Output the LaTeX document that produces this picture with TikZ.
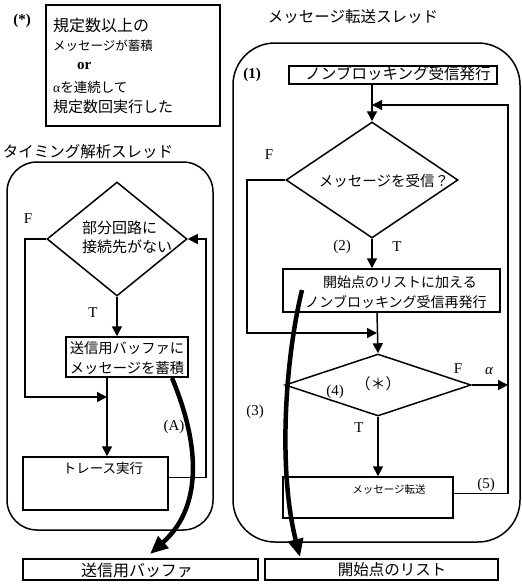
\documentclass[tikz,border=0pt]{standalone}
\usepackage{fontspec}
\setmainfont{Liberation Serif}
\newfontfamily\jp{Noto Sans CJK JP}
\newfontfamily\lat{Liberation Serif}
\usetikzlibrary{arrows.meta,shapes.geometric,calc}
\begin{document}
\begin{tikzpicture}[x=1pt,y=-1pt,
  box/.style={draw,line width=1.5pt,rectangle,inner sep=0pt},
  panel/.style={draw,line width=1.5pt,rectangle,inner sep=0pt},
  dia/.style={draw,line width=1.5pt,diamond,inner sep=0pt},
  conn/.style={line width=1.5pt},
  arr/.style={line width=1.5pt,-{Triangle[length=10pt,width=10pt]}},
  bigarr/.style={line width=4.5pt,-{Triangle[length=18pt,width=15pt]}},
  lbl/.style={inner sep=0pt,font=\fontsize{15}{15}\selectfont},
  jt/.style={inner sep=0pt,font=\jp\fontsize{#1}{#1}\selectfont},
  jt/.default=14
]
\useasboundingbox (0,0) rectangle (522,584);

% (*) note box
\node[lbl] (starlbl) at (22,21) {\textbf{(*)}};
\node[box,minimum width=174pt,minimum height=121pt] (starbox) at (133,65.5) {};
\node[jt=16,anchor=west] (s1) at (53,25) {規定数以上の};
\node[jt=12.5,anchor=west] (s2) at (53,46) {メッセージが蓄積};
\node[lbl,anchor=west] (s3) at (77,66) {\textbf{or}};
\node[jt=13.5,anchor=west] (s4) at (53,87) {{\lat α}を連続して};
\node[jt=15,anchor=west] (s5) at (53,107) {規定数回実行した};

% titles
\node[jt=15.5] (tR) at (353,17) {メッセージ転送スレッド};
\node[jt=15.5] (tL) at (88,152) {タイミング解析スレッド};

% panels
\node[panel,rounded corners=42pt,minimum width=287pt,minimum height=499pt] (pR) at (376.5,292.5) {};
\node[panel,rounded corners=30pt,minimum width=206pt,minimum height=368pt] (pL) at (110,346) {};

% right thread
\node[lbl] (n1) at (252,75) {\textbf{(1)}};
\node[box,minimum width=208pt,minimum height=18pt] (box1) at (393,75) {};
\node[jt=15.5] (box1t) at (398,74) {ノンブロッキング受信発行};

\node[dia,minimum width=172pt,minimum height=116pt] (dR1) at (372,180) {};
\node[jt=14.5] (dR1t) at (384,181) {メッセージを受信？};

\node[box,minimum width=217pt,minimum height=43pt] (box2) at (391.5,290.5) {};
\node[jt=14] (box2a) at (400,282) {開始点のリストに加える};
\node[jt=14] (box2b) at (396,302) {ノンブロッキング受信再発行};

\node[dia,minimum width=186pt,minimum height=62pt] (dR2) at (378,385) {};
\node[jt=15] (dR2t) at (378,384) {（＊）};

\node[box,minimum width=170pt,minimum height=41pt] (m5) at (368,497.5) {};
\node[jt=10.5] (m5t) at (389,490) {メッセージ転送};

\node[lbl] (FR) at (269,155) {F};
\node[lbl] (n2) at (342,247) {(2)};
\node[lbl] (TR) at (397,247) {T};
\node[lbl] (F2) at (458,369) {F};
\node[lbl] (al) at (489,371) {\itshape α};
\node[lbl] (n4) at (335,392) {(4)};
\node[lbl] (T2) at (359,428) {T};
\node[lbl] (n5) at (486,485) {(5)};
\node[lbl] (n3) at (255,412) {(3)};

\coordinate (j1) at (372,105);
\coordinate (rr) at (508,105);
\coordinate (fl) at (247,180);
\coordinate (j2) at (377,333);

\draw[arr] (box1.south -| dR1.north) -- (dR1.north);
\draw[arr] ([yshift=4pt]m5.east) -| (rr) -- (j1);
\draw[arr] (dR2.east) -- (dR2.east -| rr);
\draw[arr] (dR1.west) -- (fl) |- (j2);
\draw[arr] (dR1.south) -- (dR1.south |- box2.north);
\draw[arr] (box2.south -| j2) -- (dR2.north);
\draw[arr] (dR2.south) -- (dR2.south |- m5.north);

% left thread
\node[dia,minimum width=140pt,minimum height=114pt] (dL) at (117,239) {};
\node[jt=15,anchor=west] (dLa) at (82,228) {部分回路に};
\node[jt=15,anchor=west] (dLb) at (82,247) {接続先がない};

\node[box,minimum width=122pt,minimum height=40pt] (bufA) at (127,357) {};
\node[jt=14.3] (bufAa) at (127,348) {送信用バッファに};
\node[jt=14.3] (bufAb) at (127,368) {メッセージを蓄積};

\node[box,minimum width=145pt,minimum height=53pt] (trace) at (95.5,483.5) {};
\node[jt=13.5] (tracet) at (103,468) {トレース実行};

\node[lbl] (FL) at (28,219) {F};
\node[lbl] (TL) at (93,313) {T};
\node[lbl] (Alb) at (174,427) {(A)};

\coordinate (j3) at (107,397);
\coordinate (lf) at (25,239);
\coordinate (rl) at (206,239);

\draw[arr] (dL.south) -- (dL.south |- bufA.north);
\draw[arr] (bufA.south -| j3) -- (j3 |- trace.north);
\draw[arr] (dL.west) -- (lf) |- (j3);
\draw[arr] ([yshift=6pt]trace.east) -| (rl) -- (dL.east);

% bottom boxes
\node[box,minimum width=235pt,minimum height=21pt] (sendbuf) at (140.5,569.5) {};
\node[jt=16] (sendbuft) at (137,570) {送信用バッファ};
\node[box,minimum width=233pt,minimum height=21pt] (startlist) at (381.5,569.5) {};
\node[jt=15.5] (startlistt) at (392,570) {開始点のリスト};

% thick arrows
\coordinate (As) at (172,378);
\coordinate (Ae) at (150,554);
\draw[bigarr] (As) .. controls (198,440) and (205,505) .. (Ae);
\coordinate (Bs) at (302,290);
\coordinate (Be) at (300,557);
\draw[bigarr] (Bs) .. controls (285,360) and (278,470) .. (Be);
\end{tikzpicture}
\end{document}
